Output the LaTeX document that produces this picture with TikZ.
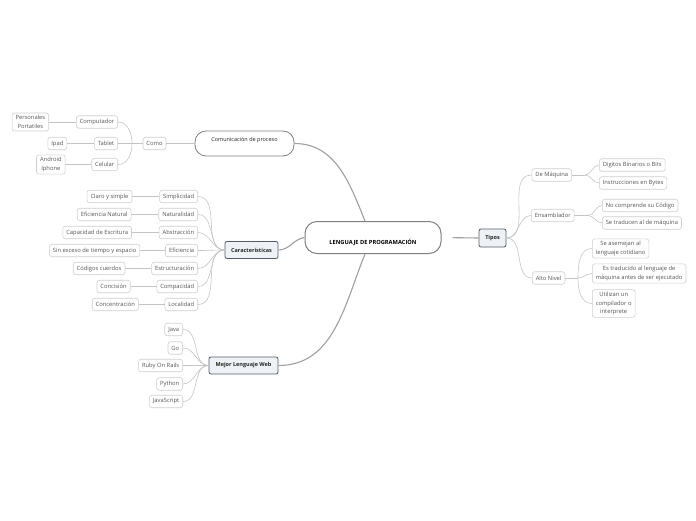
\documentclass[tikz,border=0pt]{standalone}
\usepackage{fontspec}
\setmainfont{Open Sans}
\usetikzlibrary{positioning}
\definecolor{linegray}{HTML}{C4C4C4}
\definecolor{boxgray}{HTML}{CFCFCF}
\definecolor{textgray}{HTML}{555555}
\definecolor{topicfill}{HTML}{EEF2F7}
\definecolor{topicdraw}{HTML}{535C68}
\definecolor{maindraw}{HTML}{808080}

\begin{document}
\begin{tikzpicture}[x=1pt,y=-1pt,
  leaf/.style={rectangle, draw=boxgray, line width=0.6pt, rounded corners=2.5pt, fill=white,
    text=textgray, font=\fontsize{5.8}{8.5}\selectfont, inner xsep=3.5pt, inner ysep=2.5pt,
    minimum height=12.5pt, align=center},
  topic/.style={rectangle, draw=topicdraw, line width=0.8pt, rounded corners=2pt, fill=topicfill,
    text=black!85, font=\fontsize{5.5}{6.5}\selectfont\bfseries, minimum height=17pt},
  link/.style={draw=linegray, line width=0.6pt},
  mainlink/.style={draw=gray!75, line width=1.1pt}]

  \useasboundingbox (0,0) rectangle (696,520);

  % centro
  \node[
  rectangle,
  draw=maindraw,
  line width=1pt,
  rounded corners=12pt,
  minimum width=136pt,
  minimum height=32pt,
  text height=14pt,
  text depth=1pt,
  font=\fontsize{5.7}{6.5}\selectfont\bfseries,
  ] (lenguaje) at (373,237.5) {LENGUAJE DE PROGRAMACIÓN};

  \node[
  rectangle,
  draw=maindraw,
  line width=0.8pt,
  rounded corners=11pt,
  fill=white,
  minimum width=99pt,
  minimum height=25pt,
  text height=4pt,
  text depth=8pt,
  font=\fontsize{5.5}{6.5}\selectfont,
  text=black!85,
  ] (comunicacion) at (244.5,143.5) {Comunicación de proceso};

  \node[topic, minimum width=53pt] (carac) at (251.5,250) {Características};
  \node[topic, minimum width=69pt] (mejor) at (243.5,365.5) {Mejor Lenguaje Web};
  \node[topic, minimum width=27pt, minimum height=18pt] (tipos) at (492.5,238) {Tipos};

  % comunicacion de proceso
  \node[leaf] (como) at (154.5,143.5) {Como};
  \node[leaf, anchor=east] (compu) at (118,122) {Computador};
  \node[leaf, anchor=east] (tablet) at (118,143.5) {Tablet};
  \node[leaf, anchor=east] (celular) at (118,164.5) {Celular};
  \node[leaf, left=27pt of compu] (perso) {Personales\\Portatiles};
  \node[leaf, left=27pt of tablet] (ipad) {Ipad};
  \node[leaf, left=26pt of celular] (android) {Android\\Iphone};
  \coordinate (comoj) at (132,143.5);

  % caracteristicas
  \node[leaf, anchor=east] (simp) at (198,196.5) {Simplicidad};
  \node[leaf, anchor=east] (natu) at (198,214.5) {Naturalidad};
  \node[leaf, anchor=east] (abst) at (198,232.5) {Abstracción};
  \node[leaf, anchor=east] (efic) at (198,250.5) {Eficiencia};
  \node[leaf, anchor=east] (estr) at (198,268.5) {Estructuración};
  \node[leaf, anchor=east] (compa) at (198,286.5) {Compacidad};
  \node[leaf, anchor=east] (loca) at (198,304.5) {Localidad};
  \node[leaf, left=27pt of simp] (claro) {Claro y simple};
  \node[leaf, left=27pt of natu] (efnat) {Eficiencia Natural};
  \node[leaf, left=27pt of abst] (capac) {Capacidad de Escritura};
  \node[leaf, left=25pt of efic] (exceso) {Sin exceso de tiempo y espacio};
  \node[leaf, left=26pt of estr] (codigos) {Códigos cuerdos};
  \node[leaf, left=26pt of compa] (concis) {Concisión};
  \node[leaf, left=26pt of loca] (concen) {Concentración};

  % mejor lenguaje web
  \node[leaf, anchor=east] (java) at (183,329.5) {Java};
  \node[leaf, anchor=east] (go) at (183,348) {Go};
  \node[leaf, anchor=east] (ruby) at (183,365.5) {Ruby On Rails};
  \node[leaf, anchor=east] (python) at (183,384) {Python};
  \node[leaf, anchor=east] (js) at (183,401.5) {JavaScript};

  % tipos
  \node[leaf, anchor=west] (maquina) at (531.5,175) {De Máquina};
  \node[leaf, anchor=west] (ensam) at (531,215.5) {Ensamblador};
  \node[leaf, anchor=west] (alto) at (532,278) {Alto Nivel};
  \node[leaf, anchor=west] (digitos) at (599,165) {Digitos Binarios o Bits};
  \node[leaf, anchor=west] (instr) at (599,183) {Instrucciones en Bytes};
  \node[leaf, anchor=west] (nocomp) at (602,205.5) {No comprende su Código};
  \node[leaf, anchor=west] (setrad) at (602,223) {Se traducen al de máquina};
  \node[leaf, anchor=west] (asem) at (592,248.5) {Se asemejan al\\lenguaje cotidiano};
  \node[leaf, anchor=west] (estrad) at (592,273.5) {Es traducido al lenguaje de\\máquina antes de ser ejecutado};
  \node[leaf, anchor=west] (utiliz) at (592,303.5) {Utilizan un\\compilador o\\interprete};
  \coordinate (maqj) at (585,175);
  \coordinate (ensj) at (588,215.5);
  \coordinate (altoj) at (578,278);

  % ramas principales
  \draw[mainlink] (comunicacion.east) to[out=0,in=112] ([xshift=-8pt]lenguaje.north);
  \draw[mainlink] (mejor.east) to[out=0,in=-112] ([xshift=-8pt]lenguaje.south);
  \draw[mainlink] (carac.east) to[out=0,in=188] (lenguaje.west);
  \draw[mainlink, shorten <=11pt] (lenguaje.east) -- (tipos.west);

  % comunicacion
  \draw[link] (comunicacion.west) -- (como.east);
  \draw[link] (como.west) -- (comoj);
  \draw[link] (comoj) to[out=90,in=0] (compu.east);
  \draw[link] (comoj) -- (tablet.east);
  \draw[link] (comoj) to[out=-90,in=0] (celular.east);
  \draw[link] (compu.west) -- (perso.east);
  \draw[link] (tablet.west) -- (ipad.east);
  \draw[link] (celular.west) -- (android.east);

  % caracteristicas
  \draw[link] (simp.east) to[out=0,in=180] (carac.west);
  \draw[link] (natu.east) to[out=0,in=180] (carac.west);
  \draw[link] (abst.east) to[out=0,in=180] (carac.west);
  \draw[link] (efic.east) to[out=0,in=180] (carac.west);
  \draw[link] (estr.east) to[out=0,in=180] (carac.west);
  \draw[link] (compa.east) to[out=0,in=180] (carac.west);
  \draw[link] (loca.east) to[out=0,in=180] (carac.west);
  \draw[link] (simp.west) -- (claro.east);
  \draw[link] (natu.west) -- (efnat.east);
  \draw[link] (abst.west) -- (capac.east);
  \draw[link] (efic.west) -- (exceso.east);
  \draw[link] (estr.west) -- (codigos.east);
  \draw[link] (compa.west) -- (concis.east);
  \draw[link] (loca.west) -- (concen.east);

  % mejor lenguaje web
  \draw[link] (java.east) to[out=0,in=180] (mejor.west);
  \draw[link] (go.east) to[out=0,in=180] (mejor.west);
  \draw[link] (ruby.east) to[out=0,in=180] (mejor.west);
  \draw[link] (python.east) to[out=0,in=180] (mejor.west);
  \draw[link] (js.east) to[out=0,in=180] (mejor.west);

  % tipos
  \draw[link] (tipos.east) to[out=0,in=180] (maquina.west);
  \draw[link] (tipos.east) to[out=0,in=180] (ensam.west);
  \draw[link] (tipos.east) to[out=0,in=180] (alto.west);
  \draw[link] (maquina.east) -- (maqj);
  \draw[link] (maqj) to[out=0,in=180] (digitos.west);
  \draw[link] (maqj) to[out=0,in=180] (instr.west);
  \draw[link] (ensam.east) -- (ensj);
  \draw[link] (ensj) to[out=0,in=180] (nocomp.west);
  \draw[link] (ensj) to[out=0,in=180] (setrad.west);
  \draw[link] (alto.east) -- (altoj);
  \draw[link] (altoj) to[out=90,in=180] (asem.west);
  \draw[link] (altoj) to[out=0,in=180] (estrad.west);
  \draw[link] (altoj) to[out=-90,in=180] (utiliz.west);
\end{tikzpicture}
\end{document}
